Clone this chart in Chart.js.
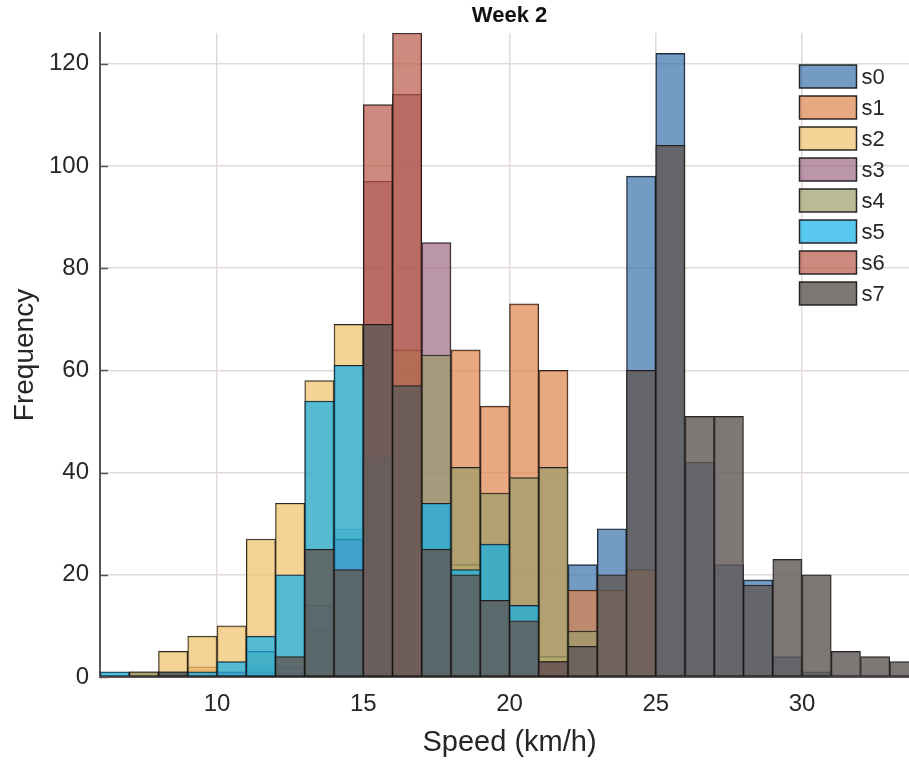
<!DOCTYPE html>
<html><head><meta charset="utf-8">
<script src="https://cdn.jsdelivr.net/npm/chart.js@4.4.1/dist/chart.umd.min.js"></script>
<style>
html,body{margin:0;padding:0;background:#fff;overflow:hidden;}
#wrap{width:909px;height:763px;overflow:hidden;position:relative;background:#fff;}
canvas{display:block;}
</style></head><body>
<div id="wrap"><canvas id="c" width="919" height="763"></canvas></div>
<script>
// Bin left edges (km/h), bins are 1 km/h wide
const binStarts = [6,7,8,9,10,11,12,13,14,15,16,17,18,19,20,21,22,23,24,25,26,27,28,29,30,31,32,33];
const seriesNames = ['s0','s1','s2','s3','s4','s5','s6','s7'];
//            6 7 8 9 10 11 12 13 14 15  16  17 18 19 20 21 22 23 24  25  26 27 28 29 30 31 32 33
const s0 = [0,0,0,0, 0, 2, 0, 0,29, 0,  0,  0, 0, 0, 0, 0,22,29,98,122,42,22,19, 4, 1, 0, 0, 0];
const s1 = [0,0,0,2, 0, 0, 0, 0, 0, 0,  0,  0,64,53,73,60,17,17,21,  0, 0, 0, 0, 0, 0, 0, 0, 0];
const s2 = [0,1,5,8,10,27,34,58,69,61, 31,  0,22, 0, 0, 4, 0, 0, 0,  0, 0, 0, 0, 0, 0, 0, 0, 0];
const s3 = [0,0,0,0, 1, 1, 2,14,27,97,114, 85, 0, 0, 0, 0, 0, 0, 0,  0, 0, 0, 0, 0, 0, 0, 0, 0];
const s4 = [0,1,0,0, 0, 5, 0, 9, 0, 0, 64, 63,41,36,39,41, 9, 0, 0,  0, 0, 0, 0, 0, 0, 0, 0, 0];
const s5 = [1,0,1,1, 3, 8,20,54,61,43,  0, 34,21,26,14, 0, 0, 0, 0,  0, 0, 0, 0, 0, 0, 0, 0, 0];
const s6 = [0,0,0,0, 0, 0, 0, 0, 0,112,126, 0, 0, 0, 0, 3, 0, 0, 0,  0, 0, 0, 0, 0, 0, 0, 0, 0];
const s7 = [0,0,1,0, 0, 0, 4,25,21,69, 57, 25,20,15,11, 3, 6,20,60,104,51,51,18,23,20, 5, 4, 3];
const xTickValues = [10,15,20,25,30];
const yTickValues = [0,20,40,60,80,100,120];

const seriesColors = [
  'rgba(56,112,171,0.7)',
  'rgba(222,131,74,0.7)',
  'rgba(239,194,105,0.7)',
  'rgba(156,105,131,0.7)',
  'rgba(156,156,105,0.7)',
  'rgba(19,176,234,0.7)',
  'rgba(185,88,71,0.7)',
  'rgba(96,90,88,0.82)'
];
const edgeColor = 'rgba(25,22,22,0.92)';
const gridColor = '#e2d9d9';
const axisColor = '#5a5454';
const textColor = '#262626';
const FONT = "'Liberation Sans', Arial, Helvetica, sans-serif";
Chart.defaults.font.family = FONT;

const allSeries = [s0,s1,s2,s3,s4,s5,s6,s7];
function toPoints(arr){
  const pts = [];
  arr.forEach((v,i)=>{ if (v > 0) pts.push({x: binStarts[i] + 0.5, y: v}); });
  return pts;
}

const innerTicks = {
  id: 'innerTicks',
  beforeDatasetsDraw(chart){
    const {ctx, chartArea: ca, scales} = chart;
    ctx.save();
    ctx.strokeStyle = axisColor; ctx.lineWidth = 1.5;
    yTickValues.forEach(v=>{
      const y = Math.round(scales.y.getPixelForValue(v)) + 0.5;
      ctx.beginPath(); ctx.moveTo(ca.left, y); ctx.lineTo(ca.left + 8, y); ctx.stroke();
    });
    xTickValues.forEach(v=>{
      const x = Math.round(scales.x.getPixelForValue(v)) + 0.5;
      ctx.beginPath(); ctx.moveTo(x, ca.bottom); ctx.lineTo(x, ca.bottom - 8); ctx.stroke();
    });
    ctx.restore();
  }
};

const inLegend = {
  id: 'inLegend',
  afterDraw(chart){
    const {ctx, chartArea: ca} = chart;
    const x0 = ca.right - 119.5, y0 = 65, step = 31, w = 57, h = 23;
    ctx.save();
    ctx.font = '22px ' + FONT;
    ctx.textBaseline = 'middle';
    ctx.textAlign = 'left';
    seriesNames.forEach((name,i)=>{
      const y = y0 + i*step;
      ctx.fillStyle = seriesColors[i];
      ctx.fillRect(x0, y, w, h);
      ctx.strokeStyle = edgeColor; ctx.lineWidth = 1.5;
      ctx.strokeRect(x0, y, w, h);
      ctx.fillStyle = textColor;
      ctx.fillText(name, x0 + w + 5, y + h/2 + 1);
    });
    ctx.restore();
  }
};

new Chart(document.getElementById('c').getContext('2d'), {
  type: 'bar',
  data: {
    datasets: allSeries.map((arr,i)=>({
      label: seriesNames[i],
      data: toPoints(arr),
      backgroundColor: seriesColors[i],
      borderColor: edgeColor,
      borderWidth: 1,
      borderSkipped: false,
      order: 7 - i,
      barPercentage: 1,
      categoryPercentage: 1,
      grouped: false
    }))
  },
  options: {
    responsive: false,
    animation: false,
    layout: {padding: 0},
    plugins: {
      legend: {display: false},
      tooltip: {enabled: false},
      title: {
        display: true, text: 'Week 2', fullSize: false,
        color: '#111', font: {size: 22, weight: 'bold', family: FONT},
        padding: {top: 3, bottom: 3.6}
      }
    },
    scales: {
      x: {
        type: 'linear', min: 6, max: 34, offset: false,
        grid: {offset: false, color: gridColor, lineWidth: 1.5, drawTicks: false},
        border: {color: axisColor, width: 2},
        ticks: {color: textColor, font: {size: 24}, padding: 13, maxRotation: 0},
        afterBuildTicks: s => { s.ticks = xTickValues.map(v=>({value: v})); },
        afterFit: s => { s.height = 86; },
        title: {display: true, text: 'Speed (km/h)', color: textColor, font: {size: 29}, padding: {top: 0, bottom: 3}}
      },
      y: {
        type: 'linear', min: 0, max: 126,
        grid: {color: gridColor, lineWidth: 1.5, drawTicks: false},
        border: {color: axisColor, width: 2},
        ticks: {color: textColor, font: {size: 24}, padding: 11},
        afterBuildTicks: s => { s.ticks = yTickValues.map(v=>({value: v})); },
        afterFit: s => { s.width = 100; },
        title: {display: true, text: 'Frequency', color: textColor, font: {size: 28}, padding: {top: 8, bottom: 0}}
      }
    }
  },
  plugins: [innerTicks, inLegend]
});
</script>
</body></html>
